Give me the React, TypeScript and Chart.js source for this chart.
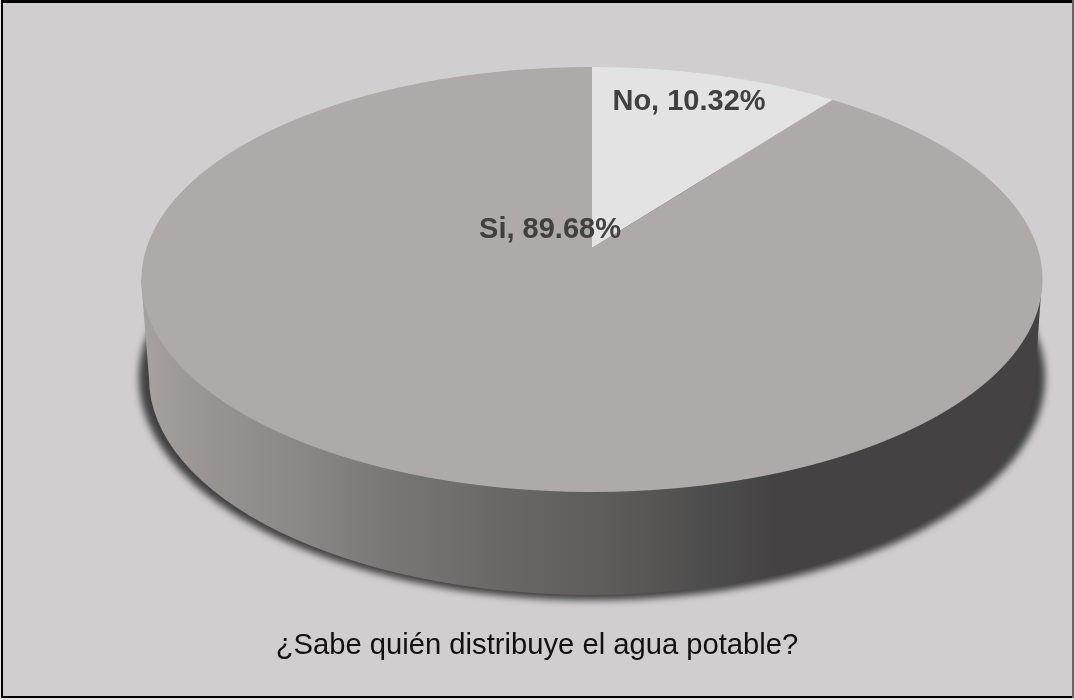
import React, { useEffect, useRef } from "react";
import { Chart, registerables } from "chart.js";

Chart.register(...registerables);

const categories = ["No", "Si"];
const shares = [10.32, 89.68];
const sliceColors = ["#e3e3e3", "#aeaaaa"];
const question = "¿Sabe quién distribuye el agua potable?";

const WIDTH = 1074;
const HEIGHT = 700;

// Perspective of the disc: apex on screen, half extents of the projected circle, foreshortening.
const apexX = 592;
const apexY = 248;
const spanX = 445.5;
const spanY = 207.8;
const tilt = 0.1482;

// Rim of the disc and its lower edge, as screen ellipses.
const topRim = { x: 591.5, y: 279.5, rx: 450.5, ry: 212.5 };
const baseRim = { x: 592, y: 378, rx: 443, ry: 217 };
const shade = { x: 592, y: 378, rx: 453, ry: 222 };

const wallStops: [number, string][] = [
  [141, "#a5a2a1"],
  [200, "#989594"],
  [300, "#8a8887"],
  [400, "#777574"],
  [450, "#716f6e"],
  [500, "#6a6867"],
  [600, "#5f5d5c"],
  [640, "#5a5756"],
  [700, "#4f4e4e"],
  [780, "#444242"],
  [1042, "#444242"],
];

const labelSpots = [
  { x: 689, y: 102 },
  { x: 550, y: 230 },
];

const framePlugin = {
  id: "frame",
  beforeDraw(chart: Chart) {
    const { ctx } = chart;
    ctx.save();
    ctx.fillStyle = "#e4e4e4";
    ctx.fillRect(0, 0, WIDTH, HEIGHT);
    ctx.fillStyle = "#000000";
    ctx.fillRect(1, 0, WIDTH - 1, 698);
    ctx.fillStyle = "#666666";
    ctx.fillRect(WIDTH - 2, 0, 2, 698);
    ctx.fillStyle = "#d0cece";
    ctx.fillRect(3, 3, WIDTH - 5, 693);
    ctx.restore();
  },
};

// Draws the cast shadow and side wall, then the slices row by row under the perspective mapping.
const discPlugin = {
  id: "disc",
  beforeDatasetDraw(chart: Chart, args: { index: number }) {
    const { ctx } = chart;
    const arcs = chart.getDatasetMeta(args.index).data as any[];
    const radius = arcs[0].outerRadius;
    const originX = arcs[0].x;
    const originY = arcs[0].y;

    ctx.save();
    ctx.filter = "blur(3.5px)";
    ctx.fillStyle = "#404040";
    ctx.beginPath();
    ctx.ellipse(shade.x, shade.y, shade.rx, shade.ry, 0, 0, Math.PI * 2);
    ctx.fill();
    ctx.restore();

    const wall = ctx.createLinearGradient(141, 0, 1042, 0);
    wallStops.forEach(([x, color]) => wall.addColorStop((x - 141) / 901, color));
    ctx.save();
    ctx.fillStyle = wall;
    ctx.beginPath();
    ctx.ellipse(baseRim.x, baseRim.y, baseRim.rx, baseRim.ry, 0, 0, Math.PI * 2);
    ctx.fill();
    ctx.beginPath();
    ctx.moveTo(topRim.x - topRim.rx, topRim.y);
    ctx.lineTo(baseRim.x - baseRim.rx, baseRim.y);
    ctx.lineTo(baseRim.x + baseRim.rx, baseRim.y);
    ctx.lineTo(topRim.x + topRim.rx, topRim.y);
    ctx.closePath();
    ctx.fill();
    ctx.restore();

    const firstRow = Math.floor(apexY - spanY / (1 + tilt)) - 2;
    const lastRow = Math.ceil(apexY + spanY / (1 - tilt)) + 2;
    for (let row = firstRow; row <= lastRow; row++) {
      const offset = row + 0.5 - apexY;
      const n = offset / (spanY + tilt * offset);
      const w = 1 - tilt * n;
      const sx = spanX / radius / w;
      const sy = spanY / radius / (w * w);
      ctx.save();
      ctx.beginPath();
      ctx.rect(0, row, WIDTH, 1);
      ctx.clip();
      ctx.setTransform(sx, 0, 0, sy, apexX - sx * originX, row + 0.5 - sy * (originY + n * radius));
      arcs.forEach((arc) => arc.draw(ctx));
      ctx.restore();
    }
    return false;
  },
  afterDatasetsDraw(chart: Chart) {
    const { ctx } = chart;
    ctx.save();
    ctx.font = "bold 29px 'Liberation Sans'";
    ctx.fillStyle = "#404040";
    ctx.textAlign = "center";
    ctx.textBaseline = "middle";
    categories.forEach((name, i) => {
      ctx.fillText(`${name}, ${shares[i].toFixed(2)}%`, labelSpots[i].x, labelSpots[i].y);
    });
    ctx.restore();
  },
};

export default function App() {
  const canvasRef = useRef<HTMLCanvasElement>(null);

  useEffect(() => {
    const chart = new Chart(canvasRef.current!, {
      type: "pie",
      data: {
        labels: categories,
        datasets: [
          {
            data: shares,
            backgroundColor: sliceColors,
            borderWidth: 0,
            radius: 200,
          },
        ],
      },
      options: {
        responsive: false,
        animation: false,
        rotation: 0,
        plugins: {
          legend: { display: false },
          tooltip: { enabled: false },
          title: {
            display: true,
            position: "bottom",
            text: question,
            color: "#111111",
            font: { family: "'Liberation Sans'", size: 29.2, weight: "normal", lineHeight: 1.2 },
            padding: { top: 0, bottom: 37 },
          },
        },
      },
      plugins: [framePlugin, discPlugin],
    });
    return () => chart.destroy();
  }, []);

  return (
    <div style={{ position: "absolute", left: 0, top: 0 }}>
      <canvas ref={canvasRef} width={WIDTH} height={HEIGHT} style={{ display: "block" }} />
    </div>
  );
}
